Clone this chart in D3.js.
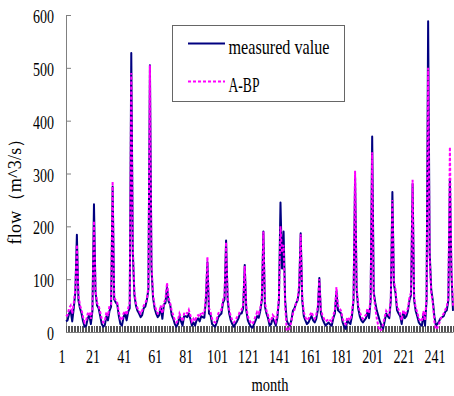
<!DOCTYPE html>
<html>
<head>
<meta charset="utf-8">
<script src="https://cdn.jsdelivr.net/npm/d3@7"></script>
<style>
  body { margin: 0; background: #fff; }
  text { font-family: 'Liberation Serif', 'DejaVu Serif', serif; fill: #000; }
</style>
</head>
<body>
<div id="chart"></div>
<script>
// monthly flow, measured vs A-BP model
const months = d3.range(1, 251);
const measured = [
  20, 22, 35, 40, 20, 45, 75, 184, 60, 45,
  35, 20, 10, 12, 26, 32, 15, 40, 242, 75,
  50, 45, 30, 15, 10, 13, 30, 22, 40, 48,
  275, 62, 56, 52, 30, 15, 12, 28, 35, 22,
  38, 45, 528, 150, 70, 50, 40, 35, 28, 32,
  45, 48, 60, 80, 505, 120, 65, 45, 35, 28,
  32, 48, 25, 52, 55, 85, 58, 52, 32, 25,
  15, 10, 15, 30, 20, 12, 30, 30, 28, 35,
  25, 12, 18, 12, 22, 26, 20, 30, 28, 27,
  60, 132, 35, 32, 15, 12, 10, 18, 28, 32,
  35, 55, 62, 173, 60, 35, 22, 15, 10, 15,
  20, 26, 35, 35, 45, 127, 41, 22, 15, 10,
  8, 15, 22, 30, 27, 40, 60, 190, 48, 35,
  26, 12, 15, 26, 20, 12, 27, 60, 245, 120,
  190, 60, 22, 15, 12, 22, 40, 45, 54, 60,
  80, 187, 60, 30, 22, 15, 18, 25, 30, 22,
  18, 25, 41, 102, 35, 25, 18, 12, 15, 18,
  14, 12, 26, 35, 77, 41, 38, 35, 18, 10,
  6, 22, 18, 15, 30, 60, 295, 80, 45, 30,
  22, 18, 22, 26, 38, 26, 60, 370, 75, 55,
  40, 30, 20, 12, 6, 20, 35, 30, 26, 60,
  265, 90, 74, 41, 35, 30, 15, 38, 26, 30,
  40, 60, 70, 280, 60, 40, 30, 18, 14, 12,
  35, 12, 60, 588, 150, 80, 60, 30, 12, 15,
  20, 26, 28, 30, 38, 41, 60, 290, 110, 40
];
const abp = [
  30, 32, 45, 50, 35, 55, 80, 165, 70, 50,
  42, 28, 18, 22, 35, 38, 25, 45, 210, 80,
  55, 50, 38, 25, 18, 20, 38, 30, 50, 52,
  285, 65, 60, 55, 38, 25, 22, 35, 40, 32,
  45, 55, 490, 160, 75, 55, 45, 40, 35, 40,
  50, 55, 62, 85, 505, 130, 70, 50, 42, 35,
  38, 50, 35, 55, 62, 93, 65, 55, 40, 32,
  22, 18, 22, 35, 28, 20, 35, 38, 35, 42,
  32, 20, 25, 20, 30, 32, 28, 38, 35, 35,
  70, 142, 45, 38, 25, 20, 18, 25, 35, 40,
  42, 60, 68, 170, 65, 42, 30, 22, 18, 22,
  28, 32, 40, 42, 52, 125, 48, 30, 22, 18,
  15, 22, 30, 38, 35, 45, 65, 190, 55, 40,
  32, 20, 22, 32, 28, 20, 35, 65, 200, 150,
  165, 50, 5, 2, 8, 20, 35, 42, 55, 62,
  90, 185, 65, 38, 28, 22, 25, 32, 38, 30,
  25, 32, 48, 100, 42, 32, 25, 20, 22, 25,
  22, 20, 32, 42, 85, 50, 45, 40, 25, 18,
  15, 28, 25, 22, 38, 65, 305, 85, 52, 38,
  30, 25, 30, 32, 45, 35, 65, 340, 70, 45,
  25, 10, 2, 5, 15, 28, 40, 35, 32, 65,
  250, 95, 80, 48, 42, 35, 22, 42, 32, 38,
  45, 65, 75, 288, 65, 45, 38, 25, 22, 20,
  40, 22, 65, 500, 140, 75, 55, 20, 5, 8,
  15, 25, 30, 35, 42, 48, 65, 350, 120, 50
];
const yTicks = [0, 100, 200, 300, 400, 500, 600];
const xLabels = [1, 21, 41, 61, 81, 101, 121, 141, 161, 181, 201, 221, 241];
const seriesNames = ['measured value', 'A-BP'];

const width = 454;
const height = 396;
const margin = { l: 66, r: 1, t: 15, b: 64 };

const svg = d3.select('#chart').append('svg')
  .attr('width', width)
  .attr('height', height);

const x = d3.scaleLinear()
  .domain([1, months.length])
  .range([margin.l, width - margin.r]);
const y = d3.scaleLinear()
  .domain([0, 600])
  .range([height - margin.b, margin.t]);

const axisColor = '#808080';

// y axis: gray line, inside ticks
svg.append('g')
  .attr('transform', `translate(${margin.l},0)`)
  .call(d3.axisLeft(y).tickValues(yTicks).tickSize(-5).tickSizeOuter(0).tickFormat(''))
  .call((g) => g.selectAll('line, path').attr('stroke', axisColor));
svg.append('g')
  .selectAll('text')
  .data(yTicks)
  .join('text')
    .attr('x', 54)
    .attr('y', (d) => y(d) + 8)
    .attr('text-anchor', 'end')
    .attr('font-size', 19)
    .attr('textLength', (d) => String(d).length * 7)
    .attr('lengthAdjust', 'spacingAndGlyphs')
    .text((d) => d);

// x axis: one small inside tick per month
svg.append('g')
  .attr('transform', `translate(0,${y(0)})`)
  .call(d3.axisBottom(x).tickValues(months).tickSize(-6).tickSizeOuter(0).tickFormat(''))
  .call((g) => g.selectAll('line').attr('stroke', '#555').attr('shape-rendering', 'crispEdges'))
  .call((g) => g.select('.domain').attr('stroke', axisColor));
svg.append('g')
  .selectAll('text')
  .data(xLabels)
  .join('text')
    .attr('x', (d) => x(d) - 4)
    .attr('y', 362.5)
    .attr('text-anchor', 'middle')
    .attr('font-size', 19)
    .attr('textLength', (d) => String(d).length * 7)
    .attr('lengthAdjust', 'spacingAndGlyphs')
    .text((d) => d);

// axis titles
svg.append('text')
  .attr('x', 270)
  .attr('y', 391)
  .attr('text-anchor', 'middle')
  .attr('font-size', 19)
  .attr('textLength', 37)
  .attr('lengthAdjust', 'spacingAndGlyphs')
  .text('month');
svg.append('text')
  .attr('transform', 'translate(21,187) rotate(-90)')
  .attr('text-anchor', 'middle')
  .attr('font-size', 18)
  .attr('textLength', 115)
  .text('flow（m^3/s）');

// series
const line = (vals) => d3.line()
  .x((d, i) => x(months[i]))
  .y((d) => y(d))(vals);

svg.append('path')
  .attr('d', line(measured))
  .attr('fill', 'none')
  .attr('stroke', '#000080')
  .attr('stroke-width', 2)
  .attr('stroke-linejoin', 'round');
svg.append('path')
  .attr('d', line(abp))
  .attr('fill', 'none')
  .attr('stroke', '#ff00ff')
  .attr('stroke-width', 2)
  .attr('stroke-dasharray', '3,2');

// legend
const legend = svg.append('g');
legend.append('rect')
  .attr('x', 172.5)
  .attr('y', 25.5)
  .attr('width', 172)
  .attr('height', 76)
  .attr('fill', '#fff')
  .attr('stroke', '#666');
const legendRows = [
  { name: seriesNames[0], color: '#000080', dash: null, ly: 43.5, len: 101 },
  { name: seriesNames[1], color: '#ff00ff', dash: '3,2', ly: 81.5, len: 31 },
];
legendRows.forEach((r) => {
  legend.append('line')
    .attr('x1', 188)
    .attr('x2', 225)
    .attr('y1', r.ly)
    .attr('y2', r.ly)
    .attr('stroke', r.color)
    .attr('stroke-width', 2)
    .attr('stroke-dasharray', r.dash);
  legend.append('text')
    .attr('x', 228.5)
    .attr('y', r.ly + 10)
    .attr('font-size', 22)
    .attr('textLength', r.len)
    .attr('lengthAdjust', 'spacingAndGlyphs')
    .text(r.name);
});
</script>
</body>
</html>
